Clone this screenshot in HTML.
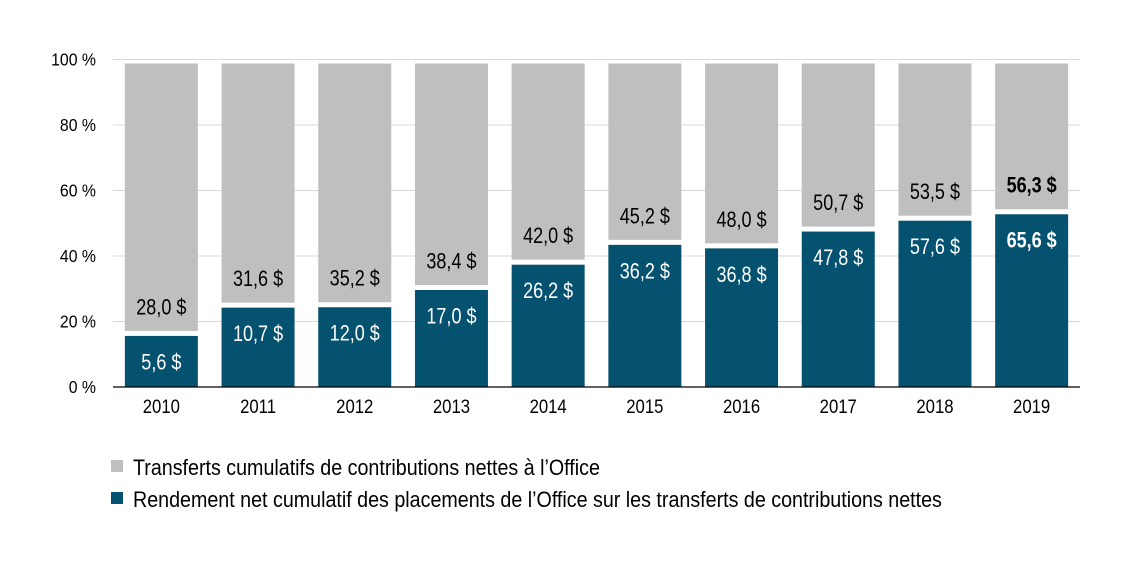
<!DOCTYPE html>
<html><head><meta charset="utf-8"><style>
body{margin:0;background:#fff;}
svg{display:block;font-family:"Liberation Sans",Arial,sans-serif;}
</style></head><body>
<svg id="chart" width="1141" height="570">
<g id="grid"></g><g id="bars"></g><g id="axis"></g>
<g>
<rect x="111" y="460" width="12" height="12" fill="#bfbfbf"/>
<text x="133" y="475" font-size="22" transform="translate(133,0) scale(0.895,1) translate(-133,0)" fill="#000">Transferts cumulatifs de contributions nettes à l’Office</text>
<rect x="111" y="492" width="12" height="12" fill="#04526f"/>
<text x="133" y="507" font-size="22" transform="translate(133,0) scale(0.895,1) translate(-133,0)" fill="#000">Rendement net cumulatif des placements de l’Office sur les transferts de contributions nettes</text>
</g>
</svg>
<script>
const years=["2010","2011","2012","2013","2014","2015","2016","2017","2018","2019"];
const transfers=[28.0,31.6,35.2,38.4,42.0,45.2,48.0,50.7,53.5,56.3];
const returns=[5.6,10.7,12.0,17.0,26.2,36.2,36.8,47.8,57.6,65.6];
const yTicks=[0,20,40,60,80,100];
const NS="http://www.w3.org/2000/svg";
const x0=113,x1=1080,yTop=59.5,yBot=387;
const pitch=(x1-x0)/years.length, bw=73;
const y=p=>yBot-(p/100)*(yBot-yTop);
const fmt=v=>v.toFixed(1).replace('.',',')+' $';
function mk(tag,attrs,parent){const e=document.createElementNS(NS,tag);for(const k in attrs)e.setAttribute(k,attrs[k]);parent.appendChild(e);return e;}
const grid=document.getElementById('grid'),bars=document.getElementById('bars'),axis=document.getElementById('axis');
yTicks.forEach(t=>{
 if(t>0){const l=mk('line',{x1:x0,x2:x1,y1:y(t),y2:y(t),stroke:'#d9d9d9','stroke-width':1},grid);
 
 }
 const tx=mk('text',{x:96,y:y(t)+6,'font-size':18,'text-anchor':'end',fill:'#000',transform:`translate(96,0) scale(0.88,1) translate(-96,0)`},axis);
 tx.textContent=t+' %';
 
 
});
const base=mk('line',{x1:x0,x2:x1,y1:yBot,y2:yBot,stroke:'#000','stroke-width':1.2},axis);


years.forEach((yr,i)=>{
 const cx=x0+pitch*(i+0.5), bx=cx-bw/2;
 const share=returns[i]/(returns[i]+transfers[i])*100;
 const yb=y(share)+1;
 const bold=i===years.length-1?'bold':'normal';
 const g=mk('rect',{x:bx,y:63.5,width:bw,height:yb-2.5-63.5,fill:'#bfbfbf'},bars);
 
 
 const b=mk('rect',{x:bx,y:yb+2.5,width:bw,height:yBot-yb-2.5,fill:'#04526f'},bars);
 
 
 const tl=mk('text',{x:cx,y:yb-19,'font-size':22,'font-weight':bold,'text-anchor':'middle',fill:'#000',transform:`translate(${cx},0) scale(0.82,1) translate(${-cx},0)`},bars);
 tl.textContent=fmt(transfers[i]);
 
 
 const rl=mk('text',{x:cx,y:yb+36,'font-size':22,'font-weight':bold,'text-anchor':'middle',fill:'#fff',transform:`translate(${cx},0) scale(0.82,1) translate(${-cx},0)`},bars);
 rl.textContent=fmt(returns[i]);
 
 
 const xl=mk('text',{x:cx,y:413,'font-size':19,'text-anchor':'middle',fill:'#000',transform:`translate(${cx},0) scale(0.88,1) translate(${-cx},0)`},axis);
 xl.textContent=yr;
 
 
});
</script>
</body></html>
